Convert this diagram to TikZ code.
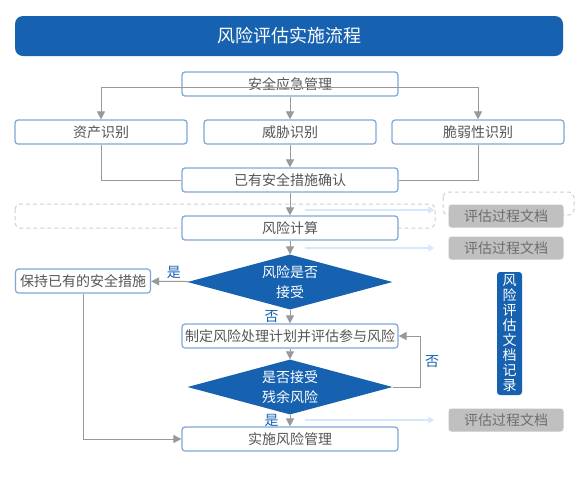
\documentclass[tikz,border=0pt]{standalone}
\usepackage{fontspec}
\setmainfont{Noto Sans CJK SC}
\usetikzlibrary{shapes.geometric,arrows.meta}
\definecolor{titleblue}{HTML}{1762B0}
\definecolor{boxline}{HTML}{7FA7D6}
\definecolor{arrowgray}{HTML}{999999}
\definecolor{docgray}{HTML}{C0C0C0}
\definecolor{doctext}{HTML}{6E6E6E}
\definecolor{boxtext}{HTML}{555555}
\definecolor{lightblue}{HTML}{D6E8FB}
\definecolor{dashgray}{HTML}{CFCFCF}
\begin{document}
\begin{tikzpicture}
		[x=1pt,y=-1pt,
		title/.style ={rectangle, fill=titleblue, text=white, rounded corners=8pt, minimum width=548pt, minimum height=40pt, font=\fontsize{18}{20}\selectfont},
		block/.style ={rectangle, draw=boxline, line width=1.2pt, fill=white, rounded corners=3pt, text=boxtext, inner sep=0pt, minimum height=24pt, font=\fontsize{14}{16}\selectfont},
		wide/.style = {block, minimum width=216pt},
		side/.style = {block, minimum width=172pt},
		keepbox/.style = {block, minimum width=135pt},
		decision/.style = {diamond, fill=titleblue, text=white, inner sep=0pt, shape aspect=3.8, minimum width=205pt, minimum height=55pt, align=center, font=\fontsize{14}{20}\selectfont},
		doc/.style = {rectangle, fill=docgray, text=doctext, rounded corners=3pt, minimum width=115pt, minimum height=23pt, inner sep=0pt, font=\fontsize{14}{16}\selectfont},
		record/.style = {rectangle, fill=titleblue, text=white, rounded corners=3pt, minimum width=25pt, minimum height=123pt, inner sep=0pt, align=center, font=\fontsize{14}{15}\selectfont},
		line/.style ={draw, color=arrowgray, line width=1pt, -{Triangle[length=8pt,width=8pt]}},
		plain/.style ={draw=arrowgray, line width=1pt},
		docline/.style ={draw, color=lightblue, line width=2pt, shorten >=14pt, -{Triangle[length=6pt,width=7pt]}},
		answer/.style ={text=titleblue, inner sep=2pt, font=\fontsize{14}{16}\selectfont},
		frame/.style ={draw=dashgray, line width=1pt, dash pattern=on 4pt off 3pt, rounded corners=5pt},
		]

		\useasboundingbox (0,0) rectangle (580,491);

		% dashed frames behind the boxes
		\draw[frame] (15,204) rectangle (435,228);
		\draw[frame] (443,192) rectangle (574,215);

		\draw (289,36) node[title] (Title) {风险评估实施流程};

		\draw (290,84) node[wide] (SafetyMgmt) {安全应急管理};
		\draw (101,132) node[side] (AssetId) {资产识别};
		\draw (290,132) node[side] (ThreatId) {威胁识别};
		\draw (478,132) node[side] (VulnId) {脆弱性识别};
		\draw (290,180) node[wide] (ExistingCheck) {已有安全措施确认};
		\draw (290,228) node[wide] (RiskCalc) {风险计算};
		\draw (290,282) node[decision] (Accept) {风险是否\\接受};
		\draw (83,281) node[keepbox] (Keep) {保持已有的安全措施};
		\draw (290,336) node[wide] (Plan) {制定风险处理计划并评估参与风险};
		\draw (290,387) node[decision] (Residual) {是否接受\\残余风险};
		\draw (290,439) node[wide] (Implement) {实施风险管理};

		\draw (506,216) node[doc] (DocA) {评估过程文档};
		\draw (506,248) node[doc] (DocB) {评估过程文档};
		\draw (506,420) node[doc] (DocC) {评估过程文档};
		\draw (509.5,333.5) node[record] (Record) {风\\险\\评\\估\\文\\档\\记\\录};

		\coordinate (StartA) at (305,210);
		\coordinate (StartB) at (305,248);
		\coordinate (StartC) at (305,420);

		\path[line]
		(SafetyMgmt) edge (ThreatId)
		(ThreatId) edge (ExistingCheck)
		(ExistingCheck) edge (RiskCalc)
		(RiskCalc) edge (Accept)
		(Accept) edge node[answer, above, pos=0.4] {是} (Keep)
		(Accept) edge node[answer, left=9pt] {否} (Plan)
		(Plan) edge (Residual)
		(Residual) edge node[answer, left=9pt] {是} (Implement);

		\draw[line] ([yshift=9pt]SafetyMgmt.south) -| (AssetId.north);
		\draw[line] ([yshift=9pt]SafetyMgmt.south) -| (VulnId.north);
		\draw[plain] (AssetId.south) |- (ExistingCheck.west);
		\draw[plain] (VulnId.south) |- (ExistingCheck.east);
		\draw[line] (Residual.east) -- ++(28,0) |- node[answer, right=2pt, pos=0.25] {否} (Plan.east);
		\draw[line] (Keep.south) |- (Implement.west);

		\draw[docline] (StartA) -- (StartA -| DocA.west);
		\draw[docline] (StartB) -- (DocB.west);
		\draw[docline] (StartC) -- (DocC.west);
	\end{tikzpicture}
\end{document}
